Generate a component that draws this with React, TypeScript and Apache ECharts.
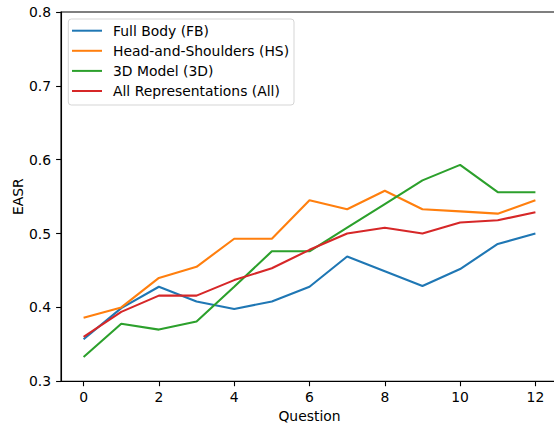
import React, { useEffect, useRef } from "react";
import * as echarts from "echarts";

const questions = [0, 1, 2, 3, 4, 5, 6, 7, 8, 9, 10, 11, 12];
const fullBody = [0.357, 0.399, 0.428, 0.408, 0.398, 0.408, 0.428, 0.469, 0.449, 0.429, 0.452, 0.486, 0.500];
const headShoulders = [0.386, 0.400, 0.440, 0.455, 0.493, 0.493, 0.545, 0.533, 0.558, 0.533, 0.530, 0.527, 0.545];
const model3d = [0.333, 0.378, 0.370, 0.381, 0.428, 0.476, 0.476, 0.508, 0.540, 0.572, 0.593, 0.556, 0.556];
const allReps = [0.360, 0.394, 0.416, 0.416, 0.437, 0.453, 0.478, 0.500, 0.508, 0.500, 0.515, 0.518, 0.529];

const seriesNames = ["Full Body (FB)", "Head-and-Shoulders (HS)", "3D Model (3D)", "All Representations (All)"];
const seriesValues = [fullBody, headShoulders, model3d, allReps];
const colors = ["#1f77b4", "#ff7f0e", "#2ca02c", "#d62728"];
const xTicks = [0, 2, 4, 6, 8, 10, 12];

const FONT = "DejaVu Sans";
const FS = 13.9;

export default function App() {
  const ref = useRef<HTMLDivElement>(null);
  useEffect(() => {
    if (!ref.current) return;
    const chart = echarts.init(ref.current, undefined, { renderer: "svg" });
    chart.setOption({
      animation: false,
      backgroundColor: "#ffffff",
      textStyle: { fontFamily: FONT },
      grid: {
        left: 61,
        top: 12,
        width: 497,
        height: 369.3,
        show: true,
        borderColor: "#000000",
        borderWidth: 1.1,
        backgroundColor: "transparent",
        containLabel: false,
        outerBoundsMode: "none",
      },
      graphic: [
        {
          type: "rect",
          z: 3,
          shape: { x: 68.3, y: 19, width: 225.7, height: 86, r: 3 },
          style: { fill: "#ffffff", stroke: "#d5d5d5", lineWidth: 1 },
        },
      ],
      legend: {
        orient: "vertical",
        left: 72,
        top: 23.7,
        padding: 0,
        itemWidth: 30,
        itemHeight: 2,
        itemGap: 6.1,
        icon: "rect",
        z: 5,
        textStyle: {
          fontFamily: FONT,
          fontSize: FS,
          color: "#000000",
          lineHeight: 14,
          padding: [0, 0, 0, 6],
        },
        data: seriesNames,
      },
      xAxis: {
        type: "value",
        min: -0.6,
        max: 12.6,
        name: "Question",
        nameLocation: "middle",
        nameGap: 28,
        nameMoveOverlap: false,
        nameTextStyle: { fontFamily: FONT, fontSize: FS, color: "#000000" },
        axisLine: { show: true, onZero: false, lineStyle: { color: "#000000", width: 1.1 } },
        axisTick: { show: true, length: 4.9, customValues: xTicks, lineStyle: { color: "#000000", width: 1.1 } },
        axisLabel: {
          customValues: xTicks,
          margin: 9,
          fontFamily: FONT,
          fontSize: FS,
          color: "#000000",
          formatter: (v: number) => String(v),
        },
        splitLine: { show: false },
      },
      yAxis: {
        type: "value",
        min: 0.3,
        max: 0.8,
        interval: 0.1,
        name: "EASR",
        nameLocation: "middle",
        nameGap: 36,
        nameRotate: 90,
        nameMoveOverlap: false,
        nameTextStyle: { fontFamily: FONT, fontSize: FS, color: "#000000" },
        axisLine: { show: true, onZero: false, lineStyle: { color: "#000000", width: 1.1 } },
        axisTick: { show: true, length: 4.9, lineStyle: { color: "#000000", width: 1.1 } },
        axisLabel: {
          margin: 10,
          fontFamily: FONT,
          fontSize: FS,
          color: "#000000",
          formatter: (v: number) => v.toFixed(1),
        },
        splitLine: { show: false },
      },
      series: seriesNames.map((name, i) => ({
        name,
        type: "line",
        symbol: "none",
        color: colors[i],
        lineStyle: { width: 2.1, color: colors[i] },
        data: questions.map((q, j) => [q, seriesValues[i][j]]),
      })),
    });
    return () => chart.dispose();
  }, []);
  return <div ref={ref} style={{ width: 554, height: 425, position: "absolute", left: 0, top: 0 }} />;
}
